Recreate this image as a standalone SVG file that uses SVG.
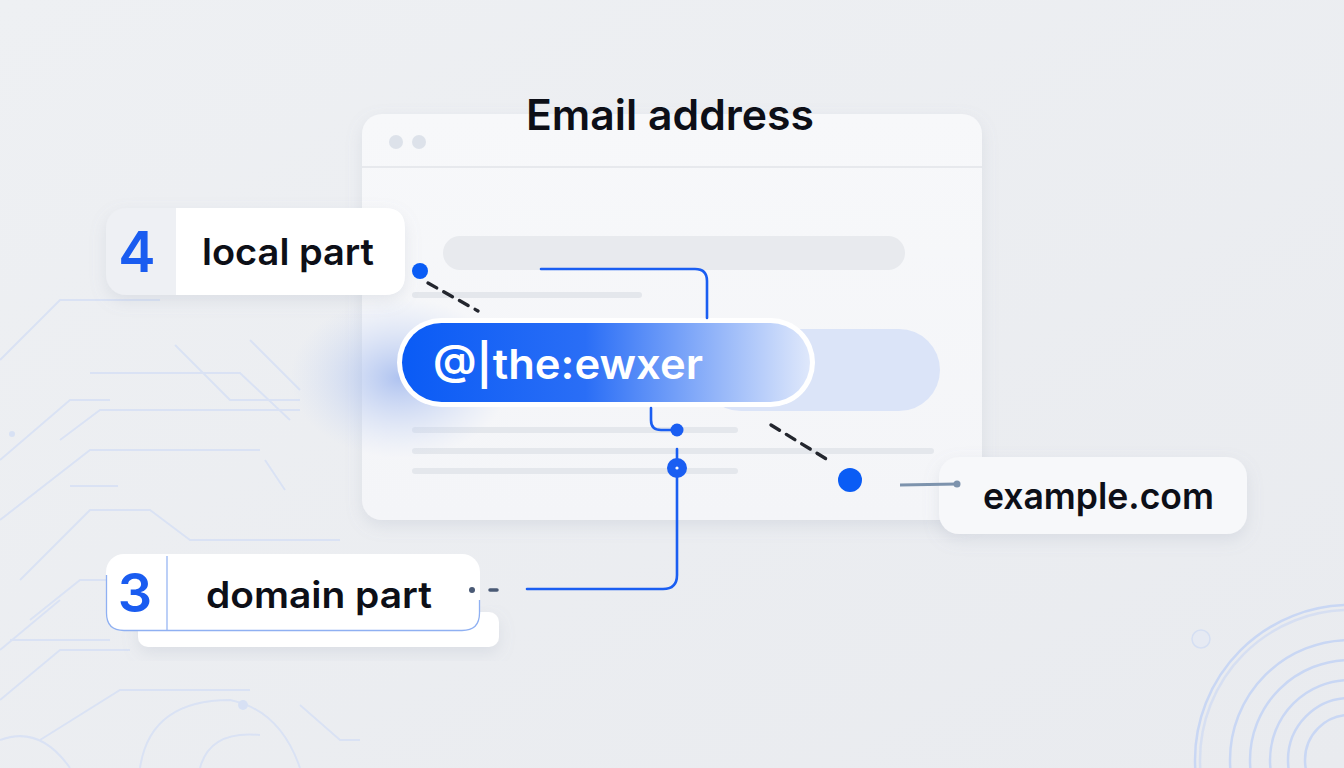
<svg xmlns="http://www.w3.org/2000/svg" width="1344" height="768" viewBox="0 0 1344 768">
<defs>
<style>
.lbl{font-family:Inter,"Noto Sans","Liberation Sans",sans-serif;font-weight:600;fill:#0d0f17}
.num{font-family:Inter,"Noto Sans","Liberation Sans",sans-serif;font-weight:600;fill:#1a5cf0}
.conn{fill:none;stroke:#1a5ef2;stroke-width:2.6;stroke-linecap:round}
.dash{fill:none;stroke:#23262e;stroke-width:3.4;stroke-dasharray:10 8;stroke-linecap:round}
.bar{fill:#e4e7ec}
.circ{fill:none;stroke:#c9d7f4;stroke-width:2.5}
.trace{fill:none;stroke:#d6e0f5;stroke-width:2}
</style>
<linearGradient id="bg" x1="0" y1="0" x2="1" y2="1">
<stop offset="0" stop-color="#eef0f3"/>
<stop offset="1" stop-color="#e9ebef"/>
</linearGradient>
<linearGradient id="pill" x1="0" y1="0" x2="1" y2="0">
<stop offset="0" stop-color="#0a5bf5"/>
<stop offset="0.45" stop-color="#2a6ef6"/>
<stop offset="1" stop-color="#dfe8fb"/>
</linearGradient>
<linearGradient id="win" x1="0" y1="0" x2="0" y2="1">
<stop offset="0" stop-color="#f7f8fa"/>
<stop offset="1" stop-color="#f4f5f8"/>
</linearGradient>
<radialGradient id="glow" cx="0.5" cy="0.5" r="0.5">
<stop offset="0" stop-color="#9db6ee" stop-opacity="0.8"/>
<stop offset="1" stop-color="#c8d6f4" stop-opacity="0"/>
</radialGradient>
<filter id="sh" x="-20%" y="-20%" width="140%" height="160%">
<feDropShadow dx="0" dy="6" stdDeviation="8" flood-color="#8a95aa" flood-opacity="0.18"/>
</filter>
</defs>
<rect width="1344" height="768" fill="url(#bg)"/>
<g id="background">
<g opacity="0.8">
<path class="trace" d="M0 360 L60 300 L160 300"/>
<path class="trace" d="M90 373 L240 373 L290 420"/>
<path class="trace" d="M0 460 L70 400 L110 400"/>
<path class="trace" d="M60 440 L100 410 L300 410"/>
<path class="trace" d="M0 520 L90 450 L260 450"/>
<path class="trace" d="M20 580 L90 510 L150 510 L190 540 L340 540"/>
<path class="trace" d="M70 486 L118 486"/>
<path class="trace" d="M30 620 L80 580 L330 580"/>
<path class="trace" d="M0 650 L60 600"/>
<path class="trace" d="M175 345 L230 400 L300 400"/>
<path class="trace" d="M250 340 L300 390"/>
<path class="trace" d="M265 460 L285 490"/>
<path class="trace" d="M0 700 L60 650 L130 650"/>
<path class="trace" d="M10 640 L110 640"/>
<path class="trace" d="M40 740 L120 690 L250 690"/>
<path class="trace" d="M300 705 L340 740 L360 740"/>
<path class="trace" d="M0 740 Q40 725 70 768"/>
<path class="trace" d="M140 768 Q150 700 230 700 Q280 710 300 768"/>
<path class="trace" d="M200 768 Q210 730 260 735"/>
<circle cx="12" cy="434" r="3" fill="#d3def5"/>
<circle cx="243" cy="705" r="5" fill="#d3def5"/>
</g>
<g>
<circle cx="1201" cy="639" r="9" fill="#e6eaf3" stroke="#d5dff3" stroke-width="1.5"/>
<circle class="circ" cx="1350" cy="760" r="155"/>
<circle class="circ" cx="1350" cy="760" r="150" opacity="0.6"/>
<circle class="circ" cx="1350" cy="760" r="120"/>
<circle class="circ" cx="1350" cy="760" r="100"/>
<circle class="circ" cx="1350" cy="760" r="80"/>
<circle class="circ" cx="1350" cy="760" r="62"/>
<circle class="circ" cx="1350" cy="760" r="45"/>
</g>
</g>
<g id="window">
<rect x="362" y="114" width="620" height="406" rx="20" fill="url(#win)" filter="url(#sh)"/>
<line x1="362" y1="167" x2="982" y2="167" stroke="#e2e4e8" stroke-width="1.5"/>
<circle cx="396" cy="142" r="7" fill="#dde2ea"/>
<circle cx="419" cy="142" r="7" fill="#dde2ea"/>
<rect x="443" y="236" width="462" height="34" rx="17" fill="#e8eaee"/>
<rect class="bar" x="412" y="292" width="230" height="6" rx="3"/>
<rect class="bar" x="412" y="427" width="326" height="6" rx="3"/>
<rect class="bar" x="412" y="448" width="522" height="6" rx="3"/>
<rect class="bar" x="412" y="468" width="326" height="6" rx="3"/>
</g>
<text id="title" class="lbl" x="526" y="130" font-size="42" textLength="288" lengthAdjust="spacingAndGlyphs">Email address</text>
<g id="input">
<ellipse cx="400" cy="378" rx="110" ry="80" fill="url(#glow)"/>
<rect x="700" y="329" width="240" height="82" rx="41" fill="#dbe4f8"/>
<rect x="397" y="318" width="418" height="89" rx="44.5" fill="#ffffff"/>
<rect x="402" y="323" width="408" height="79" rx="39.5" fill="url(#pill)"/>
<text x="433" y="379" font-family="Inter,'Noto Sans','Liberation Sans',sans-serif" font-weight="600" font-size="41" fill="#ffffff" textLength="270" lengthAdjust="spacingAndGlyphs">@|the:ewxer</text>
</g>
<g id="local-part">
<rect x="106" y="208" width="299" height="87" rx="20" fill="#eef0f4" filter="url(#sh)"/>
<path d="M176 208 L385 208 Q405 208 405 228 L405 275 Q405 295 385 295 L176 295 Z" fill="#ffffff"/>
<text class="num" x="137" y="272" font-size="56" text-anchor="middle">4</text>
<text class="lbl" x="202" y="265" font-size="37" textLength="172" lengthAdjust="spacingAndGlyphs">local part</text>
</g>
<g id="domain-part">
<rect x="138" y="612" width="361" height="35" rx="10" fill="#ffffff" filter="url(#sh)"/>
<rect x="106" y="554" width="374" height="77" rx="18" fill="#ffffff"/>
<path d="M106.5 575 L106.5 613 Q106.5 630.5 124 630.5 L462 630.5 Q479.5 630.5 479.5 613 L479.5 600" fill="none" stroke="#8fb0f2" stroke-width="1.3"/>
<line x1="167" y1="556" x2="167" y2="630" stroke="#8fb0f2" stroke-width="1.2"/>
<text class="num" x="135" y="612" font-size="54" text-anchor="middle">3</text>
<text class="lbl" x="206" y="608" font-size="37" textLength="226" lengthAdjust="spacingAndGlyphs">domain part</text>
</g>
<g id="example-com">
<rect x="939" y="457" width="308" height="77" rx="20" fill="#f7f8fa" filter="url(#sh)"/>
<text class="lbl" x="983" y="509" font-size="37" textLength="231" lengthAdjust="spacingAndGlyphs">example.com</text>
</g>
<g id="connectors">
<path class="conn" d="M541 269 L695 269 Q707 269 707 281 L707 318"/>
<path class="conn" d="M651 408 L651 420 Q651 430 661 430 L677 430"/>
<circle cx="677" cy="430" r="6.5" fill="#1a5ef2"/>
<path class="conn" d="M677 449 L677 575 Q677 589 663 589 L527 589"/>
<circle cx="677" cy="468" r="10" fill="#1a5ef2"/>
<circle cx="677" cy="468" r="1.6" fill="#ffffff"/>
<circle cx="472" cy="590" r="3" fill="#4a5a75"/>
<line x1="490" y1="590" x2="497" y2="590" stroke="#4a5a75" stroke-width="3.5" stroke-linecap="round"/>
<circle cx="420" cy="271" r="8" fill="#0a5cf5"/>
<path class="dash" d="M428 283 L478 311"/>
<path class="dash" d="M771 425 L828 460"/>
<circle cx="850" cy="480" r="12" fill="#0a5cf5"/>
<line x1="900" y1="485" x2="957" y2="484" stroke="#7d93ad" stroke-width="3"/>
<circle cx="957" cy="484" r="3.5" fill="#7d93ad"/>
</g>
</svg>
